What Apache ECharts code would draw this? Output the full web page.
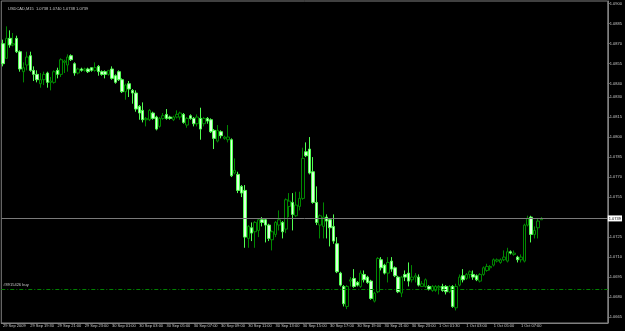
<!DOCTYPE html>
<html>
<head>
<meta charset="utf-8">
<title>USDCAD,M15</title>
<script src="https://cdn.jsdelivr.net/npm/echarts@6/dist/echarts.min.js"></script>
<style>
html, body { margin: 0; padding: 0; background: #000; }
#chart { width: 625px; height: 331px; }
</style>
</head>
<body>
<div id="chart"></div>
<script>
// M15 bars
const opens = [
  1.0870, 1.0859, 1.0874, 1.0869, 1.0874, 1.0864, 1.0849, 1.0854, 1.0861, 1.0850,
  1.0847, 1.0840, 1.0843, 1.0848, 1.0841, 1.0841, 1.0850, 1.0847, 1.0856, 1.0854,
  1.0861, 1.0855, 1.0848, 1.0851, 1.0850, 1.0851, 1.0852, 1.0850, 1.0853, 1.0849,
  1.0849, 1.0847, 1.0851, 1.0846, 1.0849, 1.0843, 1.0834, 1.0840, 1.0835, 1.0833,
  1.0823, 1.0820, 1.0813, 1.0813, 1.0818, 1.0815, 1.0808, 1.0814, 1.0817, 1.0815,
  1.0813, 1.0815, 1.0815, 1.0817, 1.0809, 1.0816, 1.0814, 1.0810, 1.0814, 1.0810,
  1.0814, 1.0813, 1.0805, 1.0797, 1.0804, 1.0799, 1.0798, 1.0798, 1.0773, 1.0772,
  1.0763, 1.0760, 1.0724, 1.0732, 1.0729, 1.0730, 1.0738, 1.0738, 1.0734, 1.0723,
  1.0727, 1.0734, 1.0736, 1.0731, 1.0748, 1.0751, 1.0741, 1.0748, 1.0754, 1.0789,
  1.0791, 1.0774, 1.0751, 1.0734, 1.0733, 1.0740, 1.0738, 1.0733, 1.0720, 1.0698,
  1.0688, 1.0673, 1.0692, 1.0694, 1.0691, 1.0688, 1.0697, 1.0695, 1.0692, 1.0677,
  1.0684, 1.0708, 1.0704, 1.0698, 1.0707, 1.0702, 1.0695, 1.0683, 1.0697, 1.0698,
  1.0693, 1.0695, 1.0695, 1.0688, 1.0688, 1.0688, 1.0685, 1.0685, 1.0687, 1.0688,
  1.0688, 1.0684, 1.0688, 1.0672, 1.0689, 1.0696, 1.0694, 1.0697, 1.0697, 1.0696,
  1.0692, 1.0697, 1.0700, 1.0702, 1.0704, 1.0707, 1.0706, 1.0708, 1.0707, 1.0714,
  1.0712, 1.0710, 1.0708, 1.0707, 1.0734, 1.0740, 1.0727, 1.0732, 1.0738
]
const highs = [
  1.0873, 1.0883, 1.0880, 1.0878, 1.0876, 1.0865, 1.0856, 1.0864, 1.0864, 1.0853,
  1.0850, 1.0848, 1.0849, 1.0849, 1.0845, 1.0850, 1.0852, 1.0859, 1.0858, 1.0862,
  1.0862, 1.0856, 1.0852, 1.0852, 1.0852, 1.0852, 1.0852, 1.0856, 1.0854, 1.0850,
  1.0850, 1.0850, 1.0853, 1.0847, 1.0850, 1.0844, 1.0840, 1.0842, 1.0836, 1.0835,
  1.0824, 1.0826, 1.0815, 1.0821, 1.0819, 1.0816, 1.0815, 1.0818, 1.0821, 1.0816,
  1.0816, 1.0820, 1.0819, 1.0818, 1.0815, 1.0817, 1.0815, 1.0817, 1.0822, 1.0815,
  1.0815, 1.0814, 1.0806, 1.0809, 1.0805, 1.0801, 1.0809, 1.0799, 1.0784, 1.0774,
  1.0764, 1.0764, 1.0734, 1.0736, 1.0737, 1.0739, 1.0740, 1.0739, 1.0735, 1.0730,
  1.0737, 1.0745, 1.0737, 1.0754, 1.0758, 1.0758, 1.0759, 1.0759, 1.0792, 1.0796,
  1.0800, 1.0785, 1.0763, 1.0742, 1.0751, 1.0742, 1.0739, 1.0742, 1.0725, 1.0699,
  1.0689, 1.0689, 1.0695, 1.0701, 1.0692, 1.0700, 1.0700, 1.0696, 1.0693, 1.0684,
  1.0710, 1.0710, 1.0705, 1.0710, 1.0710, 1.0703, 1.0696, 1.0696, 1.0700, 1.0706,
  1.0704, 1.0698, 1.0697, 1.0692, 1.0694, 1.0689, 1.0689, 1.0689, 1.0689, 1.0690,
  1.0689, 1.0689, 1.0689, 1.0690, 1.0697, 1.0701, 1.0698, 1.0700, 1.0700, 1.0697,
  1.0698, 1.0703, 1.0705, 1.0704, 1.0709, 1.0709, 1.0709, 1.0715, 1.0717, 1.0715,
  1.0715, 1.0711, 1.0712, 1.0735, 1.0741, 1.0741, 1.0733, 1.0739, 1.0740
]
const lows = [
  1.0853, 1.0859, 1.0867, 1.0868, 1.0863, 1.0849, 1.0841, 1.0850, 1.0849, 1.0842,
  1.0841, 1.0837, 1.0839, 1.0837, 1.0835, 1.0840, 1.0844, 1.0845, 1.0848, 1.0849,
  1.0857, 1.0846, 1.0847, 1.0849, 1.0849, 1.0848, 1.0849, 1.0849, 1.0846, 1.0846,
  1.0844, 1.0846, 1.0843, 1.0840, 1.0842, 1.0833, 1.0828, 1.0830, 1.0825, 1.0819,
  1.0813, 1.0811, 1.0808, 1.0812, 1.0813, 1.0805, 1.0807, 1.0813, 1.0813, 1.0813,
  1.0812, 1.0814, 1.0813, 1.0810, 1.0807, 1.0813, 1.0808, 1.0808, 1.0798, 1.0808,
  1.0810, 1.0803, 1.0791, 1.0796, 1.0799, 1.0798, 1.0796, 1.0770, 1.0772, 1.0758,
  1.0755, 1.0717, 1.0717, 1.0722, 1.0717, 1.0725, 1.0733, 1.0721, 1.0722, 1.0715,
  1.0725, 1.0730, 1.0724, 1.0728, 1.0740, 1.0730, 1.0740, 1.0745, 1.0753, 1.0785,
  1.0772, 1.0750, 1.0734, 1.0724, 1.0724, 1.0724, 1.0718, 1.0720, 1.0698, 1.0688,
  1.0673, 1.0671, 1.0688, 1.0687, 1.0688, 1.0687, 1.0691, 1.0690, 1.0678, 1.0676,
  1.0683, 1.0700, 1.0697, 1.0691, 1.0699, 1.0695, 1.0683, 1.0680, 1.0692, 1.0688,
  1.0691, 1.0691, 1.0688, 1.0688, 1.0687, 1.0685, 1.0684, 1.0684, 1.0682, 1.0684,
  1.0682, 1.0683, 1.0672, 1.0670, 1.0688, 1.0691, 1.0693, 1.0694, 1.0693, 1.0692,
  1.0691, 1.0696, 1.0699, 1.0700, 1.0703, 1.0706, 1.0705, 1.0707, 1.0706, 1.0712,
  1.0711, 1.0706, 1.0706, 1.0706, 1.0733, 1.0721, 1.0724, 1.0724, 1.0738
]
const closes = [
  1.0855, 1.0874, 1.0869, 1.0870, 1.0864, 1.0851, 1.0852, 1.0860, 1.0850, 1.0847,
  1.0843, 1.0843, 1.0847, 1.0841, 1.0842, 1.0849, 1.0847, 1.0858, 1.0857, 1.0860,
  1.0858, 1.0848, 1.0851, 1.0850, 1.0851, 1.0849, 1.0850, 1.0852, 1.0849, 1.0847,
  1.0847, 1.0850, 1.0844, 1.0841, 1.0843, 1.0834, 1.0839, 1.0836, 1.0833, 1.0821,
  1.0818, 1.0813, 1.0814, 1.0820, 1.0814, 1.0806, 1.0814, 1.0816, 1.0814, 1.0814,
  1.0815, 1.0817, 1.0818, 1.0811, 1.0814, 1.0814, 1.0810, 1.0815, 1.0806, 1.0814,
  1.0812, 1.0804, 1.0799, 1.0805, 1.0801, 1.0800, 1.0800, 1.0771, 1.0775, 1.0760,
  1.0758, 1.0725, 1.0733, 1.0728, 1.0736, 1.0738, 1.0736, 1.0734, 1.0724, 1.0729,
  1.0736, 1.0738, 1.0729, 1.0753, 1.0752, 1.0742, 1.0749, 1.0754, 1.0784, 1.0786,
  1.0773, 1.0751, 1.0736, 1.0741, 1.0740, 1.0737, 1.0732, 1.0722, 1.0699, 1.0689,
  1.0675, 1.0688, 1.0693, 1.0688, 1.0689, 1.0698, 1.0693, 1.0691, 1.0679, 1.0683,
  1.0709, 1.0702, 1.0698, 1.0706, 1.0701, 1.0696, 1.0684, 1.0695, 1.0695, 1.0692,
  1.0695, 1.0696, 1.0689, 1.0690, 1.0693, 1.0686, 1.0688, 1.0688, 1.0688, 1.0685,
  1.0684, 1.0688, 1.0673, 1.0688, 1.0695, 1.0693, 1.0697, 1.0699, 1.0695, 1.0693,
  1.0697, 1.0702, 1.0703, 1.0703, 1.0708, 1.0708, 1.0708, 1.0710, 1.0714, 1.0713,
  1.0713, 1.0708, 1.0710, 1.0734, 1.0739, 1.0727, 1.0730, 1.0737, 1.0739
]

// one time label every 8 bars
const timeLabels = [
  '29 Sep 2009', '29 Sep 19:30', '29 Sep 21:00', '29 Sep 23:00',
  '30 Sep 01:00', '30 Sep 03:00', '30 Sep 05:00', '30 Sep 07:00',
  '30 Sep 09:00', '30 Sep 11:00', '30 Sep 13:00', '30 Sep 15:00',
  '30 Sep 17:00', '30 Sep 19:00', '30 Sep 21:00', '30 Sep 23:00',
  '1 Oct 01:30', '1 Oct 03:00', '1 Oct 05:00', '1 Oct 07:00'
]
const priceTicks = [
  1.0665, 1.0680, 1.0695, 1.0710, 1.0725, 1.0755, 1.0770, 1.0785,
  1.0800, 1.0815, 1.0830, 1.0840, 1.0855, 1.0870, 1.0885, 1.0900
]
const bidPrice = 1.0739
const orderPrice = 1.0686
const orderName = '#8915426 buy'
const headerText = 'USDCAD,M15  1.0738 1.0740 1.0738 1.0739'

const labelStep = 8
const slotCount = 178 // bars + empty shift area on the right

const chart = echarts.init(document.getElementById('chart'))

const categories = Array.from({ length: slotCount }, (_, i) => i)
const candles = opens.map((o, i) => [o, closes[i], lows[i], highs[i]])
const showTick = (i) => i % labelStep === 0 && i / labelStep < timeLabels.length

const textColor = '#c8c8c8'
const frameColor = '#808080'

chart.setOption({
  animation: false,
  backgroundColor: '#000',
  textStyle: { fontFamily: 'Liberation Sans' },
  title: {
    text: headerText,
    left: 3,
    top: 2,
    textStyle: { color: textColor, fontSize: 4, fontWeight: 'normal' }
  },
  grid: {
    left: 1,
    right: 16,
    top: 1,
    bottom: 8,
    show: true,
    borderColor: frameColor,
    borderWidth: 1,
    backgroundColor: '#000'
  },
  xAxis: {
    type: 'category',
    data: categories,
    boundaryGap: true,
    axisLine: { lineStyle: { color: frameColor } },
    axisTick: {
      alignWithLabel: true,
      interval: showTick,
      length: 2,
      lineStyle: { color: frameColor }
    },
    axisLabel: {
      interval: showTick,
      formatter: (v, i) => timeLabels[i / labelStep] || '',
      align: 'left',
      color: textColor,
      fontSize: 4,
      margin: 1
    },
    splitLine: { show: false }
  },
  yAxis: {
    type: 'value',
    position: 'right',
    min: 1.06606,
    max: 1.0902,
    axisLine: { show: true, lineStyle: { color: frameColor } },
    axisTick: {
      show: true,
      customValues: priceTicks,
      length: 2,
      lineStyle: { color: frameColor }
    },
    axisLabel: {
      customValues: priceTicks,
      formatter: v => v.toFixed(4),
      color: textColor,
      fontSize: 4,
      margin: 2
    },
    splitLine: { show: false }
  },
  series: [
    {
      // price levels: bid line and the open order
      type: 'line',
      data: [],
      silent: true,
      markLine: {
        silent: true,
        animation: false,
        precision: 4, // default of 2 rounds the levels to 1.07
        symbol: ['none', 'none'],
        data: [
          {
            yAxis: bidPrice,
            lineStyle: { color: '#7a7a7a', type: 'solid', width: 1 },
            label: {
              position: 'end',
              formatter: bidPrice.toFixed(4),
              backgroundColor: '#fff',
              color: '#000',
              fontSize: 4,
              padding: [1, 1],
              distance: 0
            }
          },
          {
            yAxis: orderPrice,
            lineStyle: { color: '#008000', type: [4, 2, 1, 2], width: 1 },
            label: {
              position: 'insideStartTop',
              formatter: orderName,
              color: textColor,
              fontSize: 4,
              distance: 2
            }
          }
        ]
      }
    },
    {
      type: 'candlestick',
      data: candles,
      barWidth: 3,
      itemStyle: {
        color: '#000',
        color0: '#e0ffe0',
        borderColor: '#008800',
        borderColor0: '#50ff50',
        borderWidth: 1
      }
    }
  ]
})
</script>
</body>
</html>
